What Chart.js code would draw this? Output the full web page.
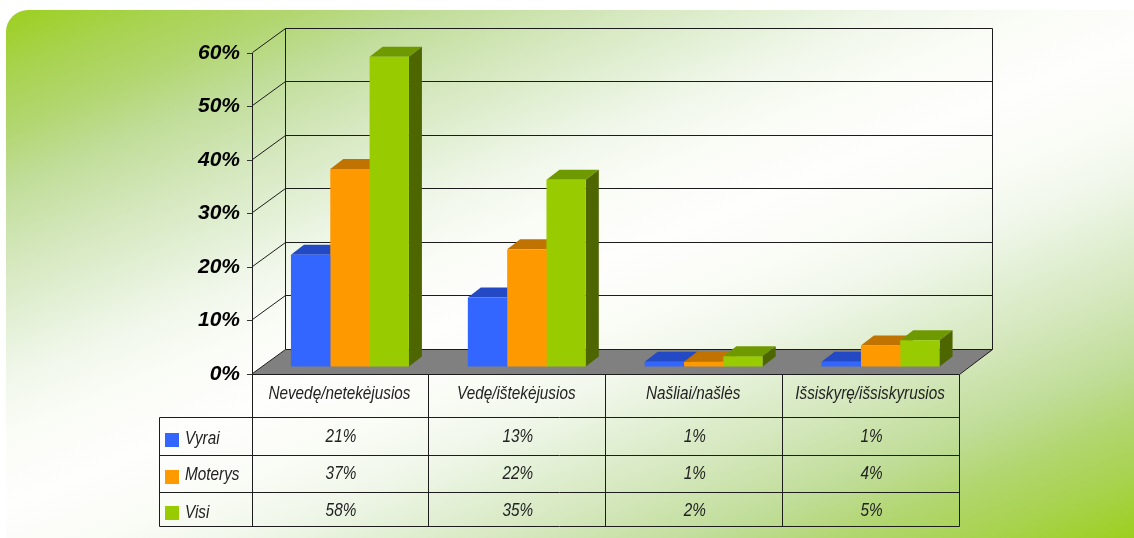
<!DOCTYPE html>
<html><head><meta charset="utf-8">
<style>html,body{margin:0;padding:0;background:#fff}canvas{display:block;position:absolute;left:0;top:0}</style>
<script src="https://cdn.jsdelivr.net/npm/chart.js@4"></script></head>
<body><canvas id="c" width="1134" height="538"></canvas>
<script>
const categories = ['Nevedę/netekėjusios','Vedę/ištekėjusios','Našliai/našlės','Išsiskyrę/išsiskyrusios'];
const vyrai = [21,13,1,1];
const moterys = [37,22,1,4];
const visi = [58,35,2,5];
const seriesNames = ['Vyrai','Moterys','Visi'];
const fronts = ['#3366FF','#FF9900','#99CC00'];
const tops = ['#2449C4','#C07300','#6F9900'];
const sides = ['#1A3380','#804D00','#4D6600'];

const DEPTH = {x:33,y:-24}, BAR = {x:9.5,y:-7}, BD = {x:13,y:-10};
const TABLE = {left:159, rows:[417,455,492,526]};
const LINE = '#1c1c1c', TXT = '#222';
const bgStops = [[0,'#9ccf1e'],[65,'#a8d350'],[120,'#b2d670'],[175,'#c0dd98'],[250,'#d4e7bc'],[315,'#e3f0d6'],[365,'#f0f7ea'],[425,'#fafcf6'],[495,'#fefefd']];

function txt(ctx,s,x,y,align){
  ctx.save();
  ctx.translate(x,y); ctx.scale(0.87,1);
  ctx.font='italic 17.6px "Liberation Sans"'; ctx.fillStyle=TXT;
  ctx.textAlign=align; ctx.textBaseline='middle';
  ctx.fillText(s,0,0); ctx.restore();
}
function seg(ctx,a,b,c,d){ctx.beginPath();ctx.moveTo(a,b);ctx.lineTo(c,d);ctx.stroke();}

const scene = {
  id:'scene',
  beforeDraw(chart){
    const c=chart.ctx, W=chart.width, H=chart.height;
    const x0=6,y0=10,nx=.41,ny=1,m=nx*nx+ny*ny,t0=12.5,t1=1003,span=t1-t0;
    const g=c.createLinearGradient(nx*t0/m,ny*t0/m,nx*t1/m,ny*t1/m);
    bgStops.forEach(([d,col])=>g.addColorStop(d/span,col));
    bgStops.slice().reverse().forEach(([d,col])=>g.addColorStop(1-d/span,col));
    c.save();c.fillStyle=g;c.beginPath();c.roundRect(x0,y0,W-x0+30,H-y0+30,22);c.fill();c.restore();
  },
  beforeDatasetsDraw(chart){
    const c=chart.ctx, y=chart.scales.y, a=chart.chartArea;
    const l=a.left, r=a.right, b=y.getPixelForValue(0), rb=Math.floor(r+DEPTH.x);
    c.save();
    c.fillStyle='#808080';
    c.beginPath();c.moveTo(l,b);c.lineTo(l+DEPTH.x,b+DEPTH.y);c.lineTo(r+DEPTH.x,b+DEPTH.y);c.lineTo(r,b);c.closePath();c.fill();
    c.strokeStyle=LINE;c.lineWidth=1;
    c.translate(.5,.5);
    y.ticks.forEach(t=>{
      const p=Math.floor(y.getPixelForValue(t.value)-0.6);
      seg(c,l,p,l+DEPTH.x,p+DEPTH.y);
      seg(c,l+DEPTH.x,p+DEPTH.y,rb,p+DEPTH.y);
    });
    const t=Math.floor(y.getPixelForValue(y.max)-0.6), fl=Math.floor(b-0.6);
    seg(c,l+DEPTH.x,t+DEPTH.y,l+DEPTH.x,fl+DEPTH.y);
    seg(c,rb,t+DEPTH.y,rb,fl+DEPTH.y);
    seg(c,Math.floor(r),fl+1,rb,fl+DEPTH.y);
    c.restore();

    c.save();c.translate(BAR.x,BAR.y);
    chart.data.datasets.forEach((ds,i)=>{
      chart.getDatasetMeta(i).data.forEach(el=>{
        const {x,y:ty,width,base}=el.getProps(['x','y','width','base'],true);
        const L=x-width/2,R=x+width/2;
        c.fillStyle=tops[i];
        c.beginPath();c.moveTo(L,ty);c.lineTo(L+BD.x,ty+BD.y);c.lineTo(R+BD.x,ty+BD.y);c.lineTo(R,ty);c.closePath();c.fill();
        c.fillStyle=sides[i];
        c.beginPath();c.moveTo(R,ty);c.lineTo(R+BD.x,ty+BD.y);c.lineTo(R+BD.x,base+BD.y);c.lineTo(R,base);c.closePath();c.fill();
        if(i<chart.data.datasets.length-1){
          c.fillStyle=fronts[i];
          c.fillRect(R-1,ty,2,base-ty);
        }
      });
    });
    c.restore();
    c.save();c.translate(BAR.x,BAR.y);
  },
  afterDatasetsDraw(chart){
    chart.ctx.restore();
    const c=chart.ctx, xs=chart.scales.x, y=chart.scales.y, a=chart.chartArea;
    const R=TABLE.rows, b=y.getPixelForValue(0);
    const step=xs.getPixelForTick(1)-xs.getPixelForTick(0);
    const edges=categories.map((_,i)=>xs.getPixelForTick(i)-step/2);
    edges.push(a.right);
    c.save();c.translate(.5,.5);c.strokeStyle=LINE;c.lineWidth=1;
    seg(c,a.left,Math.round(b),Math.floor(a.right),Math.round(b));
    edges.forEach(e=>seg(c,Math.floor(e),Math.round(b),Math.floor(e),R[3]));
    R.forEach(r=>seg(c,TABLE.left,r,Math.floor(a.right),r));
    seg(c,TABLE.left,R[0],TABLE.left,R[3]);
    c.restore();
    categories.forEach((s,i)=>txt(c,s,xs.getPixelForTick(i)-1,394.5,'center'));
    const rowY=[437.5,474,511];
    const legY=[439,475.5,513];
    const swY=[433,470,506];
    chart.data.datasets.forEach((ds,i)=>{
      c.fillStyle=fronts[i];c.fillRect(165,swY[i],14,14);
      txt(c,ds.label,185,legY[i],'left');
      ds.data.forEach((v,j)=>txt(c,v+'%',xs.getPixelForTick(j)+0.5,rowY[i],'center'));
    });
  }
};

new Chart(document.getElementById('c'),{
  type:'bar',
  data:{labels:categories,datasets:[
    {label:seriesNames[0],data:vyrai,backgroundColor:fronts[0]},
    {label:seriesNames[1],data:moterys,backgroundColor:fronts[1]},
    {label:seriesNames[2],data:visi,backgroundColor:fronts[2]}
  ]},
  options:{
    responsive:false,animation:false,
    devicePixelRatio:1,
    layout:{padding:{left:0,right:174.5,top:53,bottom:164}},
    datasets:{bar:{categoryPercentage:0.667,barPercentage:1,borderWidth:0,clip:false}},
    plugins:{legend:{display:false},tooltip:{enabled:false}},
    scales:{
      x:{afterFit(s){s.height=0;},grid:{display:false},border:{display:false},ticks:{display:false}},
      y:{min:0,max:60,
        afterFit(s){s.width=252;},
        ticks:{stepSize:10,padding:7,color:'#000',callback:v=>v+'%',font:{family:'"Liberation Sans"',size:21,style:'italic',weight:'bold'}},
        grid:{drawOnChartArea:false,drawTicks:true,tickLength:5,color:'#333'},
        border:{display:true,color:LINE,width:1}
      }
    }
  },
  plugins:[scene]
});
</script></body></html>
